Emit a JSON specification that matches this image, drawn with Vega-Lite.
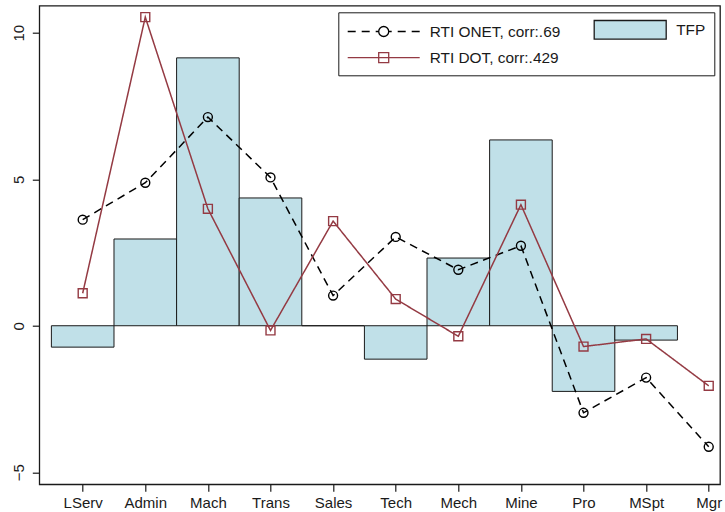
{
  "$schema": "https://vega.github.io/schema/vega-lite/v6.json",
  "width": 680.7,
  "height": 478.6,
  "autosize": "none",
  "padding": {"left": 39.3, "top": 5.7, "right": 5, "bottom": 27.7},
  "background": "white",
  "config": {
    "font": "Liberation Sans",
    "view": {"stroke": "#1a1a1a", "strokeWidth": 1.3},
    "axis": {
      "grid": false,
      "domain": false,
      "tickColor": "#1a1a1a",
      "tickWidth": 1.2,
      "tickSize": 7,
      "labelFont": "Liberation Sans",
      "labelFontSize": 15,
      "labelColor": "#1a1a1a",
      "title": null
    },
    "legend": {
      "orient": "none",
      "legendX": 299,
      "legendY": 6.6,
      "columns": 2,
      "columnPadding": 30.5,
      "rowPadding": 7,
      "padding": 8.4,
      "strokeColor": "#1a1a1a",
      "fillColor": "white",
      "symbolSize": 256,
      "symbolOffset": 28,
      "labelOffset": 37,
      "labelFont": "Liberation Sans",
      "labelFontSize": 15.4,
      "labelColor": "#1a1a1a",
      "labelLimit": 300
    }
  },
  "datasets": {
    "occupations": [
      {"pos": 1, "occ": "LServ", "tfp": -0.73, "onet": 3.62, "dot": 1.11},
      {"pos": 2, "occ": "Admin", "tfp": 2.96, "onet": 4.88, "dot": 10.53},
      {"pos": 3, "occ": "Mach", "tfp": 9.14, "onet": 7.12, "dot": 3.99},
      {"pos": 4, "occ": "Trans", "tfp": 4.36, "onet": 5.06, "dot": -0.16},
      {"pos": 5, "occ": "Sales", "tfp": 0.0, "onet": 1.03, "dot": 3.57},
      {"pos": 6, "occ": "Tech", "tfp": -1.14, "onet": 3.03, "dot": 0.91},
      {"pos": 7, "occ": "Mech", "tfp": 2.31, "onet": 1.91, "dot": -0.36},
      {"pos": 8, "occ": "Mine", "tfp": 6.34, "onet": 2.73, "dot": 4.13},
      {"pos": 9, "occ": "Pro", "tfp": -2.24, "onet": -2.97, "dot": -0.71},
      {"pos": 10, "occ": "MSpt", "tfp": -0.49, "onet": -1.77, "dot": -0.45},
      {"pos": 11, "occ": "Mgr", "tfp": null, "onet": -4.13, "dot": -2.05}
    ]
  },
  "data": {"name": "occupations"},
  "encoding": {
    "x": {
      "field": "pos",
      "type": "quantitative",
      "scale": {"domain": [0.307, 11.18], "nice": false, "zero": false, "padding": 0},
      "axis": {
        "values": [1, 2, 3, 4, 5, 6, 7, 8, 9, 10, 11],
        "labelExpr": "['LServ','Admin','Mach','Trans','Sales','Tech','Mech','Mine','Pro','MSpt','Mgr'][datum.value - 1]",
        "labelPadding": 4,
        "labelFlush": false,
        "labelOverlap": false
      }
    },
    "y": {
      "field": "value",
      "type": "quantitative",
      "scale": {"domain": [-5.41, 10.92], "nice": false, "zero": false, "padding": 0},
      "axis": {
        "values": [-5, 0, 5, 10],
        "labelAngle": -90,
        "labelAlign": "center",
        "labelBaseline": "bottom",
        "labelPadding": 6,
        "labelFlush": false
      }
    }
  },
  "layer": [
    {
      "transform": [{"fold": ["tfp"], "as": ["series", "value"]}],
      "mark": {"type": "bar", "orient": "vertical", "size": 62.6, "stroke": "#1a1a1a", "strokeWidth": 1, "opacity": 1, "clip": true},
      "encoding": {
        "y2": {"datum": 0},
        "fill": {
          "field": "series",
          "type": "nominal",
          "scale": {"domain": ["onet", "dot", "tfp"], "range": ["transparent", "transparent", "#c0e0e8"]},
          "legend": {
            "title": null,
            "values": ["onet", "dot", "tfp"],
            "labelExpr": "datum.value == 'onet' ? 'RTI ONET, corr:.69' : datum.value == 'dot' ? 'RTI DOT, corr:.429' : 'TFP'",
            "encode": {
              "symbols": {
                "update": {
                  "shape": {"signal": "datum.value == 'onet' ? 'M-4.5,0H-3.5M-2.75,0H-1.75M-1,0H-0.625M0.625,0A0.625,0.625 0 1 1 -0.625,0A0.625,0.625 0 1 1 0.625,0M0.625,0H1M1.75,0H2.75M3.5,0H4.5' : datum.value == 'dot' ? 'M-4.5,0H4.5M-0.625,-0.625H0.625V0.625H-0.625Z' : 'M-4.5,-1.16H4.5V1.16H-4.5Z'"},
                  "strokeWidth": {"value": 1.3},
                  "opacity": {"value": 1}
                }
              }
            }
          }
        }
      }
    },
    {
      "transform": [{"fold": ["onet", "dot"], "as": ["series", "value"]}],
      "mark": {"type": "line", "strokeWidth": 1.5},
      "encoding": {
        "stroke": {
          "field": "series",
          "type": "nominal",
          "scale": {"domain": ["onet", "dot", "tfp"], "range": ["#000000", "#943a43", "#1a1a1a"]},
          "legend": {
            "title": null,
            "values": ["onet", "dot", "tfp"],
            "labelExpr": "datum.value == 'onet' ? 'RTI ONET, corr:.69' : datum.value == 'dot' ? 'RTI DOT, corr:.429' : 'TFP'",
            "encode": {
              "symbols": {
                "update": {
                  "shape": {"signal": "datum.value == 'onet' ? 'M-4.5,0H-3.5M-2.75,0H-1.75M-1,0H-0.625M0.625,0A0.625,0.625 0 1 1 -0.625,0A0.625,0.625 0 1 1 0.625,0M0.625,0H1M1.75,0H2.75M3.5,0H4.5' : datum.value == 'dot' ? 'M-4.5,0H4.5M-0.625,-0.625H0.625V0.625H-0.625Z' : 'M-4.5,-1.16H4.5V1.16H-4.5Z'"},
                  "strokeWidth": {"value": 1.3},
                  "opacity": {"value": 1}
                }
              }
            }
          }
        },
        "strokeDash": {
          "condition": {"test": "datum.series == 'onet'", "value": [8, 5.5]},
          "value": [1, 0]
        }
      }
    },
    {
      "transform": [{"fold": ["onet", "dot"], "as": ["series", "value"]}],
      "mark": {"type": "point", "filled": false, "size": 80, "strokeWidth": 1.4, "opacity": 1},
      "encoding": {
        "stroke": {
          "field": "series",
          "type": "nominal",
          "scale": {"domain": ["onet", "dot", "tfp"], "range": ["#000000", "#943a43", "#1a1a1a"]},
          "legend": {
            "title": null,
            "values": ["onet", "dot", "tfp"],
            "labelExpr": "datum.value == 'onet' ? 'RTI ONET, corr:.69' : datum.value == 'dot' ? 'RTI DOT, corr:.429' : 'TFP'",
            "encode": {
              "symbols": {
                "update": {
                  "shape": {"signal": "datum.value == 'onet' ? 'M-4.5,0H-3.5M-2.75,0H-1.75M-1,0H-0.625M0.625,0A0.625,0.625 0 1 1 -0.625,0A0.625,0.625 0 1 1 0.625,0M0.625,0H1M1.75,0H2.75M3.5,0H4.5' : datum.value == 'dot' ? 'M-4.5,0H4.5M-0.625,-0.625H0.625V0.625H-0.625Z' : 'M-4.5,-1.16H4.5V1.16H-4.5Z'"},
                  "strokeWidth": {"value": 1.3},
                  "opacity": {"value": 1}
                }
              }
            }
          }
        },
        "shape": {
          "condition": {"test": "datum.series == 'dot'", "value": "square"},
          "value": "circle"
        }
      }
    }
  ]
}
